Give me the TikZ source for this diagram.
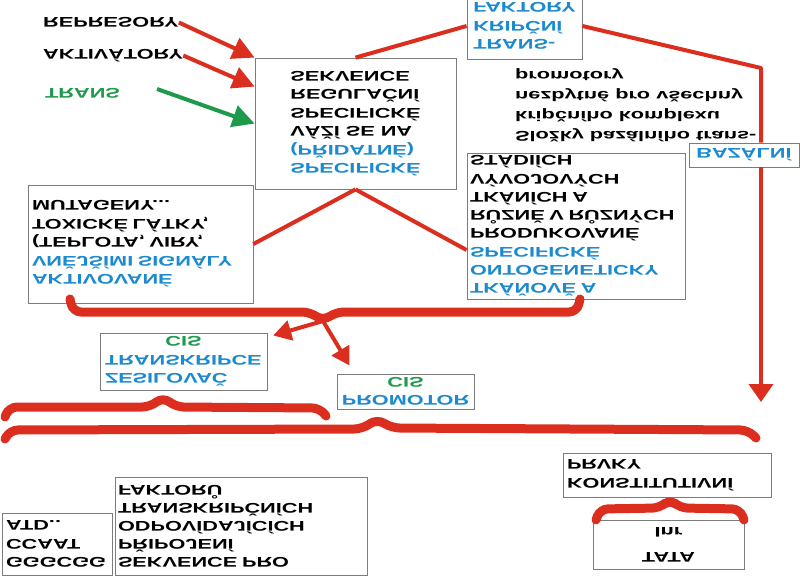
\documentclass[tikz,border=0pt]{standalone}
\usepackage{fontspec}
\newfontfamily\diafont[FakeStretch=1.55]{Liberation Sans}
\usetikzlibrary{arrows.meta,calc}
\definecolor{GenRed}{HTML}{DC2E1F}
\definecolor{GenBlue}{HTML}{1C8AD0}
\definecolor{GenGreen}{HTML}{1E9A4C}
\definecolor{GenFrame}{HTML}{7C7C7C}
\newcommand{\genfont}{\diafont\bfseries\fontsize{14}{18.5}\selectfont}
\newcommand{\blu}[1]{\textcolor{GenBlue}{#1}}
\newcommand{\grn}[1]{\textcolor{GenGreen}{#1}}
\tikzset{
  genbox/.style={
    draw=GenFrame,
    line width=0.8pt,
    fill=white,
    align=left,
    inner sep=0pt,
    font=\genfont
  },
  genlabel/.style={align=left, inner sep=0pt, font=\genfont},
  genline/.style={draw=GenRed, line width=4pt, line join=round},
  genarrow/.style={genline, -{Triangle[length=22pt,width=22pt]}},
  genbrace/.style={draw=GenRed, line width=9pt, rounded corners=8pt, line cap=round}
}

\begin{document}
\begin{tikzpicture}[x=1pt, y=1pt, yscale=-1, transform shape,
  smallarrow/.style={genline, -{Triangle[length=18pt,width=20pt]}}
]
  \useasboundingbox (0,0) rectangle (800,577);

  \node[genlabel, anchor=west] (represory) at (43,22.5) {REPRESORY};
  \node[genlabel, anchor=west] (aktivatory) at (43,55.5) {AKTIVÁTORY};
  \node[genlabel, anchor=west, text=GenGreen] (transg) at (45,93.5) {TRANS};
  \coordinate (transstart) at (157,89);

  \node[genbox, minimum width=201pt, minimum height=131pt] (sekv) at (355.5,123.5)
    {\blu{SPECIFICKÉ}\\\blu{(PŘIDATNÉ)}\\VÁŽÍ SE NA\\SPECIFICKÉ\\REGULAČNÍ\\SEKVENCE};
  \node[genbox, text=GenBlue, minimum width=115pt, minimum height=66pt] (faktory) at (524.5,26)
    {TRANS-\\KRIPČNÍ\\FAKTORY};
  \node[genbox, text=GenBlue, minimum width=110pt, minimum height=24pt] (bazalni) at (744,155) {BAZÁLNÍ};
  \node[genlabel, anchor=west, font=\diafont\bfseries\fontsize{14}{20}\selectfont] (bazkomplex) at (515,105)
    {Složky bazálního trans-\\kripčního komplexu\\nezbytné pro všechny\\promotory};
  \coordinate (bazcorner) at (761,68);
  \coordinate (baztip) at (761,402);

  \node[genbox, text width=217pt, inner xsep=4pt, minimum height=118pt] (aktiv) at (140.5,244)
    {\blu{AKTIVOVANÉ}\\\blu{VNĚJŠÍMI SIGNÁLY}\\(TEPLOTA, VIRY,\\TOXICKÉ LÁTKY,\\MUTAGENY...};
  \node[genbox, text width=212pt, inner xsep=3pt, minimum height=146pt, font=\diafont\bfseries\fontsize{14}{18.3}\selectfont] (tkan) at (576,226)
    {\blu{TKÁŇOVĚ A}\\\blu{ONTOGENETICKY}\\\blu{SPECIFICKÉ}\\PRODUKOVANÉ\\RŮZNĚ V RŮZNÝCH\\TKÁNÍCH A\\VÝVOJOVÝCH\\STÁDIÍCH};

  \node[genbox, text=GenBlue, text width=157pt, inner xsep=5pt, minimum height=57pt] (zesil) at (183.5,361.5)
    {ZESILOVAČ\\TRANSKRIPCE\\\hspace*{\fill}\grn{CIS}\hspace*{\fill}};
  \node[genbox, text=GenBlue, align=center, minimum width=137pt, minimum height=35pt] (promotor) at (405.5,391.5)
    {PROMOTOR\\\grn{CIS}};

  \node[genbox, text width=102pt, inner xsep=4pt, minimum height=62pt] (gggc) at (57,544) {GGGCGG\\CCAAT\\ATD..};
  \node[genbox, text width=246pt, inner xsep=3pt, minimum height=98pt, font=\diafont\bfseries\fontsize{14}{18}\selectfont] (sekvpro) at (241,526)
    {SEKVENCE PRO\\PŘIPOJENÍ\\ODPOVÍDAJÍCÍCH\\TRANSKRIPČNÍCH\\FAKTORŮ};
  \node[genbox, text width=200pt, inner xsep=4pt, minimum height=44pt] (konst) at (667,475) {KONSTITUTIVNÍ\\PRVKY};
  \node[genbox, align=center, minimum width=151pt, minimum height=49pt, font=\diafont\bfseries\fontsize{14}{25}\selectfont] (tata) at (668.5,544.5)
    {TATA\\Inr};

  \draw[genarrow] (represory.east) -- (sekv.south west);
  \draw[genarrow] (aktivatory.east) -- ($(sekv.south west)+(0,29)$);
  \draw[genarrow, draw=GenGreen] (transstart) -- ($(sekv.south west)+(0,66)$);

  \draw[genline] (sekv.south) -- (faktory.west);
  \draw[genline] (faktory.east) -- (bazcorner) -- (bazcorner |- bazalni.south);
  \draw[genarrow, -{Triangle[length=18pt,width=24pt]}] (bazcorner |- bazalni.north) -- (baztip);
  \draw[genline] (sekv.north) -- (aktiv.east);
  \draw[genline] (sekv.north) -- ($(tkan.west)+(0,24)$);

  \draw[genbrace] (70,299) -- (73,312) -- (310,312) -- (323,321) -- (336,312) -- (577,312) -- (580,299);
  \coordinate (uptip) at (323,321);
  \draw[smallarrow, shorten >=6pt] (uptip) -- (zesil);
  \draw[smallarrow] (uptip) -- ($(promotor.south west)+(13,-8)$);

  \draw[genbrace] (5,417) -- (9,407) -- (150,407) -- (163,397) -- (176,407) -- (320,408) -- (326,416);
  \draw[genbrace] (5,439) -- (10,430) -- (362,429) -- (377,419) -- (392,428) -- (748,430) -- (756,438);
  \draw[genbrace] (596,520) -- (600,509) -- (660,508) -- (670,499) -- (680,508) -- (740,509) -- (744,520);
\end{tikzpicture}
\end{document}
